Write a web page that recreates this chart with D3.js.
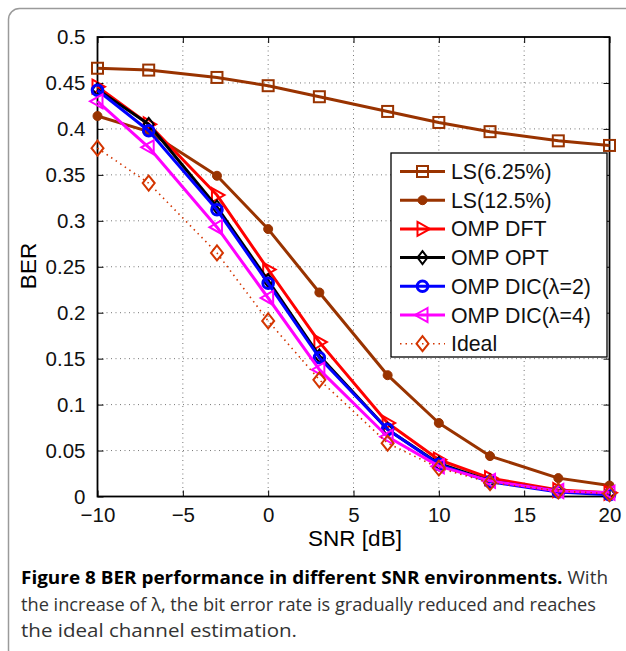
<!DOCTYPE html>
<html><head><meta charset="utf-8">
<script src="https://cdn.jsdelivr.net/npm/d3@7/dist/d3.min.js"></script>
<style>body{margin:0;background:#fff}svg{display:block}</style>
</head><body><svg id="c" width="626" height="651"></svg>
<script>
const snr = [-10, -7, -3, 0, 3, 7, 10, 13, 17, 20];
const ls625 = [0.466, 0.464, 0.456, 0.447, 0.435, 0.419, 0.407, 0.397, 0.387, 0.382];
const ls125 = [0.414, 0.397, 0.349, 0.291, 0.222, 0.132, 0.080, 0.044, 0.020, 0.012];
const ompDft = [0.446, 0.405, 0.328, 0.247, 0.168, 0.080, 0.040, 0.020, 0.007, 0.004];
const ompOpt = [0.443, 0.405, 0.315, 0.235, 0.153, 0.073, 0.036, 0.017, 0.006, 0.003];
const ompDic2 = [0.442, 0.398, 0.312, 0.232, 0.151, 0.073, 0.035, 0.016, 0.005, 0.002];
const ompDic4 = [0.430, 0.380, 0.293, 0.216, 0.138, 0.065, 0.033, 0.017, 0.006, 0.004];
const ideal = [0.379, 0.341, 0.265, 0.191, 0.127, 0.058, 0.031, 0.015, 0.006, 0.003];
const seriesNames = ["LS(6.25%)", "LS(12.5%)", "OMP DFT", "OMP OPT", "OMP DIC(λ=2)", "OMP DIC(λ=4)", "Ideal"];
const xTicks = [-10, -5, 0, 5, 10, 15, 20];
const yTicks = [0, 0.05, 0.1, 0.15, 0.2, 0.25, 0.3, 0.35, 0.4, 0.45, 0.5];

const svg = d3.select("#c");
// figure frame
svg.append("rect").attr("x", 8.5).attr("y", 8.5).attr("width", 700).attr("height", 652)
  .attr("rx", 11).attr("fill", "none").attr("stroke", "#9a9a9a").attr("stroke-width", 1.5);

const L = 97.5, R = 609.5, T = 37, B = 496.5;
const x = d3.scaleLinear().domain([-10, 20]).range([L, R]);
const y = d3.scaleLinear().domain([0, 0.5]).range([B, T]);

// grid
const g = svg.append("g");
g.selectAll(".gx").data(xTicks.slice(1, -1)).join("line")
  .attr("x1", d => x(d)).attr("x2", d => x(d)).attr("y1", T).attr("y2", B)
  .attr("stroke", "#777").attr("stroke-width", 1).attr("stroke-dasharray", "1,3.5");
g.selectAll(".gy").data(yTicks.slice(1, -1)).join("line")
  .attr("y1", d => y(d)).attr("y2", d => y(d)).attr("x1", L).attr("x2", R)
  .attr("stroke", "#777").attr("stroke-width", 1).attr("stroke-dasharray", "1,3.5");

// axes
const fmtY = d => d === 0 ? "0" : String(+d.toFixed(2));
const fmtX = d => d < 0 ? "\u2212" + Math.abs(d) : String(d);
const axStyle = sel => {
  sel.select(".domain").remove();
  sel.selectAll("line").attr("stroke", "#000").attr("stroke-width", 1);
  sel.selectAll("text").attr("font-family", "Liberation Sans, Arial, sans-serif").attr("font-size", 20.5).attr("fill", "#111");
};
svg.append("g").attr("transform", `translate(0,${B})`)
  .call(d3.axisBottom(x).tickValues(xTicks).tickSize(-6).tickPadding(11).tickFormat(fmtX)).call(axStyle);
svg.append("g").attr("transform", `translate(0,${T})`)
  .call(d3.axisTop(x).tickValues(xTicks).tickSize(-6).tickFormat("")).call(axStyle);
svg.append("g").attr("transform", `translate(${L},0)`)
  .call(d3.axisLeft(y).tickValues(yTicks).tickSize(-6).tickPadding(12).tickFormat(fmtY)).call(axStyle);
svg.append("g").attr("transform", `translate(${R},0)`)
  .call(d3.axisRight(y).tickValues(yTicks).tickSize(-6).tickFormat("")).call(axStyle);
svg.append("rect").attr("x", L).attr("y", T).attr("width", R - L).attr("height", B - T)
  .attr("fill", "none").attr("stroke", "#000").attr("stroke-width", 1.8);

// labels
svg.append("text").attr("x", 355).attr("y", 546).attr("text-anchor", "middle")
  .attr("font-family", "Liberation Sans, Arial, sans-serif").attr("font-size", 22.5).text("SNR [dB]");
svg.append("text").attr("transform", "translate(36,266) rotate(-90)").attr("text-anchor", "middle")
  .attr("font-family", "Liberation Sans, Arial, sans-serif").attr("font-size", 22.5).text("BER");

// series
const series = [
  {name: seriesNames[0], v: ls625, color: "#993300", marker: "square", dash: null},
  {name: seriesNames[1], v: ls125, color: "#993300", marker: "dot", dash: null},
  {name: seriesNames[2], v: ompDft, color: "#ff0000", marker: "tri-right", dash: null},
  {name: seriesNames[3], v: ompOpt, color: "#000000", marker: "diamond", dash: null},
  {name: seriesNames[4], v: ompDic2, color: "#0000ff", marker: "circle", dash: null},
  {name: seriesNames[5], v: ompDic4, color: "#ff00ff", marker: "tri-left", dash: null},
  {name: seriesNames[6], v: ideal, color: "#d43500", marker: "diamond-big", dash: "1.5,4"}
];

function drawMarker(sel, type, color) {
  if (type === "square") {
    sel.append("rect").attr("x", -5.5).attr("y", -5.5).attr("width", 11).attr("height", 11)
      .attr("fill", "none").attr("stroke", color).attr("stroke-width", 2);
  } else if (type === "dot") {
    sel.append("circle").attr("r", 4.5).attr("fill", color).attr("stroke", color);
  } else if (type === "circle") {
    sel.append("circle").attr("r", 5.3).attr("fill", "none").attr("stroke", color).attr("stroke-width", 3);
  } else if (type === "tri-right") {
    sel.append("path").attr("d", "M-5,-7L7.5,0L-5,7Z").attr("fill", "none").attr("stroke", color).attr("stroke-width", 2);
  } else if (type === "tri-left") {
    sel.append("path").attr("d", "M5,-7L-7.5,0L5,7Z").attr("fill", "none").attr("stroke", color).attr("stroke-width", 2);
  } else if (type === "diamond") {
    sel.append("path").attr("d", "M0,-6.5L5,0L0,6.5L-5,0Z").attr("fill", "none").attr("stroke", color).attr("stroke-width", 2);
  } else if (type === "diamond-big") {
    sel.append("path").attr("d", "M0,-7.5L6,0L0,7.5L-6,0Z").attr("fill", "none").attr("stroke", color).attr("stroke-width", 2);
  }
}

const line = d3.line().x((d, i) => x(snr[i])).y(d => y(d));
series.forEach(s => {
  const gs = svg.append("g");
  gs.append("path").attr("d", line(s.v)).attr("fill", "none").attr("stroke", s.color)
    .attr("stroke-width", s.dash ? 1.6 : 3).attr("stroke-dasharray", s.dash).attr("stroke-linejoin", "round");
  s.v.forEach((v, i) => {
    const m = gs.append("g").attr("transform", `translate(${x(snr[i])},${y(v)})`);
    drawMarker(m, s.marker, s.color);
  });
});

// legend
const lg = svg.append("g");
lg.append("rect").attr("x", 391).attr("y", 153).attr("width", 216).attr("height", 204)
  .attr("fill", "#fff").attr("stroke", "#000").attr("stroke-width", 1.3);
series.forEach((s, i) => {
  const yy = 171.5 + i * 28.7;
  lg.append("line").attr("x1", 400).attr("x2", 445).attr("y1", yy).attr("y2", yy)
    .attr("stroke", s.color).attr("stroke-width", s.dash ? 1.6 : 3).attr("stroke-dasharray", s.dash);
  const m = lg.append("g").attr("transform", `translate(422.5,${yy})`);
  drawMarker(m, s.marker, s.color);
  lg.append("text").attr("x", 451).attr("y", yy + 7.5)
    .attr("font-family", "Liberation Sans, Arial, sans-serif").attr("font-size", 21.3).attr("fill", "#111").text(s.name);
});

// caption
const cap = svg.append("g").attr("font-family", "Open Sans, Noto Sans, sans-serif").attr("font-size", 18.5).attr("fill", "#333");
const t1 = cap.append("text").attr("x", 21).attr("y", 584).attr("textLength", 587).attr("lengthAdjust", "spacingAndGlyphs");
t1.append("tspan").attr("font-weight", "bold").attr("fill", "#000").text("Figure 8 BER performance in different SNR environments.");
t1.append("tspan").text(" With");
cap.append("text").attr("x", 21).attr("y", 610.5).attr("textLength", 575).attr("lengthAdjust", "spacingAndGlyphs")
  .text("the increase of λ, the bit error rate is gradually reduced and reaches");
cap.append("text").attr("x", 21).attr("y", 637).attr("textLength", 276).attr("lengthAdjust", "spacingAndGlyphs")
  .text("the ideal channel estimation.");
</script></body></html>
